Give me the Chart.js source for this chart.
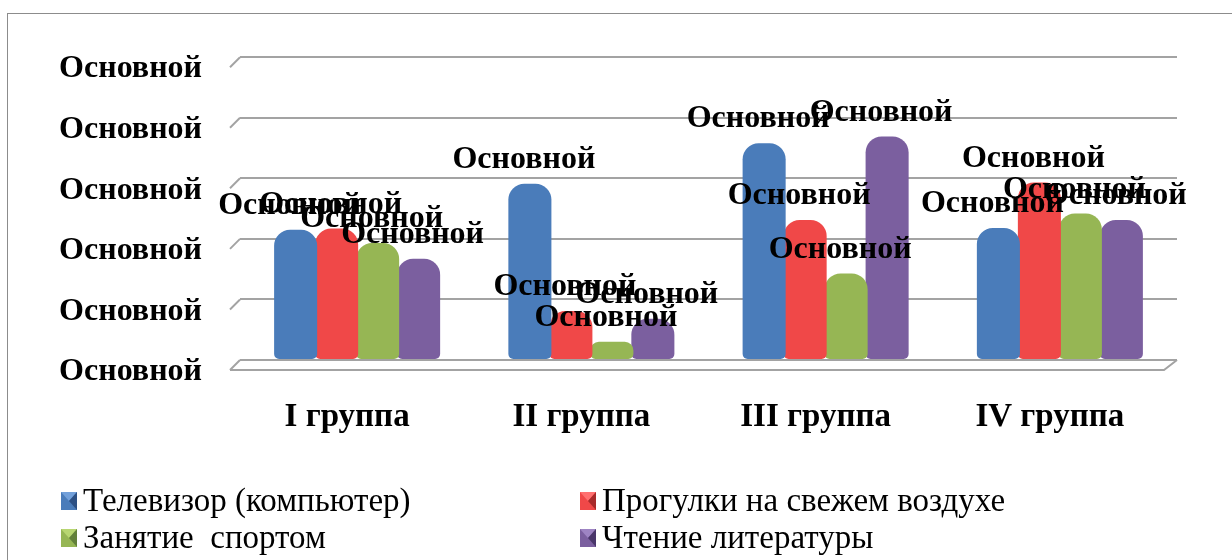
<!DOCTYPE html>
<html>
<head>
<meta charset="utf-8">
<script src="https://cdn.jsdelivr.net/npm/chart.js@4.4.1/dist/chart.umd.min.js"></script>
<style>
  html, body { margin: 0; padding: 0; background: #fff; }
  #wrap { position: relative; width: 1232px; height: 560px; }
  #frame { position: absolute; left: 7px; top: 13px; right: 0; bottom: 0; border-left: 1px solid #8c8c8c; border-top: 1px solid #8c8c8c; }
  canvas { position: absolute; left: 0; top: 0; }
</style>
</head>
<body>
<div id="wrap">
  <div id="frame"></div>
  <canvas id="grafico" width="1232" height="560"></canvas>
</div>
<script>
// данные графика
const categories = ['I группа', 'II группа', 'III группа', 'IV группа'];
const seriesNames = ['Телевизор (компьютер)', 'Прогулки на свежем воздухе', 'Занятие  спортом', 'Чтение литературы'];
const televizor = [2.15, 2.91, 3.58, 2.18];
const progulki = [2.17, 0.81, 2.31, 2.93];
const sport = [1.93, 0.30, 1.43, 2.42];
const chtenie = [1.67, 0.68, 3.69, 2.31];
const yTickLabels = ['Основной', 'Основной', 'Основной', 'Основной', 'Основной', 'Основной'];
const dataLabel = 'Основной';

// цвета: основной, светлый, тёмный
const colores = [
    ['#4a7cba', '#72a0da', '#2c5084'],
    ['#f04848', '#ff7070', '#a82a2a'],
    ['#96b654', '#b8d672', '#62803a'],
    ['#7b5f9f', '#9e84c3', '#4a366a']
];

const serif = '"Liberation Serif", "Times New Roman", serif';

function cylGradient(ctx, x0, x1, c) {
    const g = ctx.createLinearGradient(x0, 0, x1, 0);
    g.addColorStop(0, c[0]);
    g.addColorStop(0.42, c[1]);
    g.addColorStop(0.72, c[0]);
    g.addColorStop(1, c[2]);
    return g;
}

function barColor(i) {
    return function (context) {
        const el = context.element;
        const chart = context.chart;
        if (!el || !chart.chartArea || el.width === undefined) return colores[i][0];
        const x = el.x, w = el.width;
        if (!isFinite(x) || !isFinite(w)) return colores[i][0];
        return cylGradient(chart.ctx, x - w / 2, x + w / 2, colores[i]);
    };
}

// 3D-подобные линии сетки и пол
const floorPlugin = {
    id: 'floorPlugin',
    beforeDatasetsDraw(chart) {
        const ctx = chart.ctx;
        const a = chart.chartArea;
        const y = chart.scales.y;
        ctx.save();
        ctx.strokeStyle = '#a3a3a3';
        ctx.lineWidth = 2;
        y.ticks.forEach(function (t) {
            const py = y.getPixelForValue(t.value);
            ctx.beginPath();
            ctx.moveTo(a.left - 10, py + 10);
            ctx.lineTo(a.left, py);
            ctx.stroke();
        });
        // передний край пола
        const py0 = y.getPixelForValue(0);
        ctx.beginPath();
        ctx.moveTo(a.left - 10, py0 + 10);
        ctx.lineTo(a.right - 13, py0 + 10);
        ctx.lineTo(a.right, py0);
        ctx.stroke();
        ctx.restore();
    }
};

// подписи данных и легенда
const labelsPlugin = {
    id: 'labelsPlugin',
    afterDatasetsDraw(chart) {
        const ctx = chart.ctx;
        ctx.save();
        ctx.font = 'bold 32px ' + serif;
        ctx.fillStyle = '#000';
        ctx.textAlign = 'center';
        ctx.textBaseline = 'middle';
        chart.data.datasets.forEach(function (ds, i) {
            chart.getDatasetMeta(i).data.forEach(function (bar) {
                ctx.fillText(dataLabel, bar.x - 6, bar.y - 24);
            });
        });

        // легенда в две колонки
        const cols = [61, 580];
        const rows = [501, 538];
        ctx.font = '33px ' + serif;
        ctx.textAlign = 'left';
        chart.data.datasets.forEach(function (ds, i) {
            const bx = cols[i % 2];
            const by = rows[Math.floor(i / 2)];
            const c = colores[i];
            ctx.fillStyle = c[0];
            ctx.fillRect(bx, by - 9, 16, 18);
            // скошенная рамка значка
            ctx.fillStyle = c[1];
            ctx.beginPath();
            ctx.moveTo(bx, by - 9); ctx.lineTo(bx + 16, by - 9); ctx.lineTo(bx + 8, by); ctx.closePath();
            ctx.fill();
            ctx.fillStyle = c[2];
            ctx.beginPath();
            ctx.moveTo(bx + 16, by - 9); ctx.lineTo(bx + 16, by + 9); ctx.lineTo(bx + 8, by); ctx.closePath();
            ctx.fill();
            ctx.fillStyle = '#000';
            ctx.fillText(ds.label, bx + 22, by + 1);
        });
        ctx.restore();
    }
};

const ctx = document.getElementById('grafico').getContext('2d');
const datos = [televizor, progulki, sport, chtenie];

const grafico = new Chart(ctx, {
    type: 'bar',
    data: {
        labels: categories,
        datasets: datos.map(function (d, i) {
            return {
                label: seriesNames[i],
                data: d,
                backgroundColor: barColor(i),
                borderWidth: 0,
                borderSkipped: false,
                borderRadius: { topLeft: 16, topRight: 16, bottomLeft: 5, bottomRight: 5 },
                categoryPercentage: 0.70,
                barPercentage: 1.05
            };
        })
    },
    options: {
        responsive: false,
        animation: false,
        layout: { padding: { left: 0, top: 53, right: 55, bottom: 0 } },
        plugins: {
            legend: { display: false },
            tooltip: { enabled: false }
        },
        scales: {
            x: {
                grid: { display: false },
                border: { display: false },
                ticks: {
                    font: { family: serif, size: 33, weight: 'bold' },
                    color: '#000',
                    padding: 30,
                    labelOffset: -10
                },
                afterFit: function (s) { s.height = 200; }
            },
            y: {
                min: 0,
                max: 5,
                grid: { color: '#a3a3a3', lineWidth: 2, drawTicks: false },
                border: { display: false },
                ticks: {
                    stepSize: 1,
                    font: { family: serif, size: 32, weight: 'bold' },
                    color: '#000',
                    padding: 38,
                    labelOffset: 12,
                    callback: function (v, idx) { return yTickLabels[idx]; }
                },
                afterFit: function (s) { s.width = 240; }
            }
        }
    },
    plugins: [floorPlugin, labelsPlugin]
});
</script>
</body>
</html>
